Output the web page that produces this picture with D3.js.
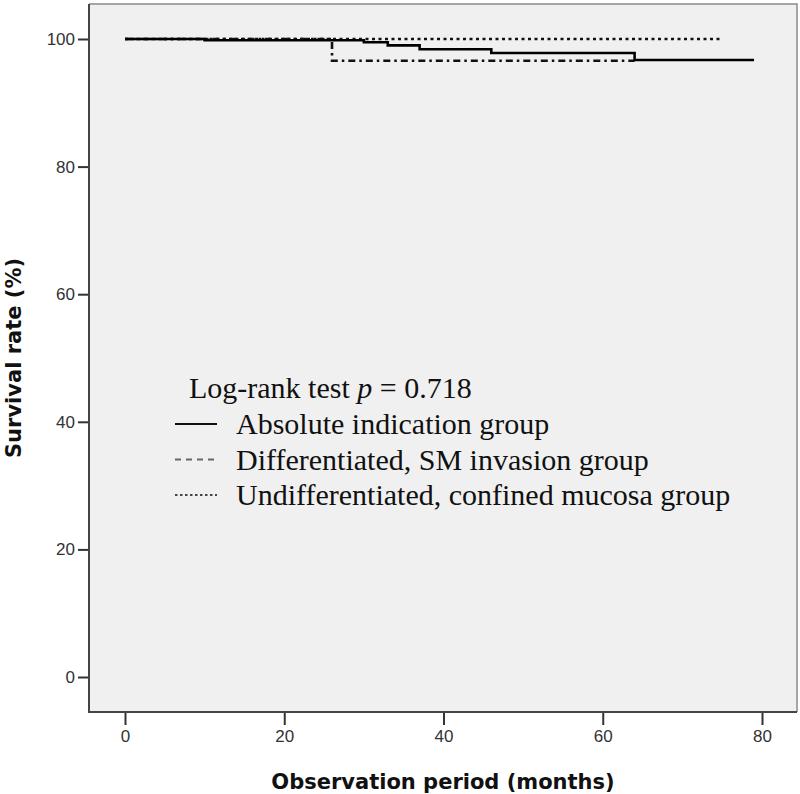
<!DOCTYPE html>
<html><head><meta charset="utf-8">
<script src="https://cdn.jsdelivr.net/npm/d3@7"></script>
<style>body{margin:0;background:#fff}svg{display:block}</style>
</head><body>
<script>
// ---- data ----
const xTicks = [0, 20, 40, 60, 80];
const yTicks = [0, 20, 40, 60, 80, 100];
const absTimes = [0, 10, 30, 33, 37, 46, 64, 79];
const absSurv  = [100, 99.8, 99.5, 99.0, 98.4, 97.8, 96.7, 96.7];
const difTimes = [0, 26, 64];
const difSurv  = [100, 96.6, 96.6];
const undTimes = [0, 75];
const undSurv  = [100, 100];
const legendTitle = "Log-rank test ";
const legendLabels = ["Absolute indication group", "Differentiated, SM invasion group", "Undifferentiated, confined mucosa group"];

const W = 800, H = 794;
const svg = d3.select("body").append("svg").attr("width", W).attr("height", H);
const frame = {l: 89, r: 797, t: 4, b: 712};
const x = d3.scaleLinear().domain([0, 80]).range([125, 762]);
const y = d3.scaleLinear().domain([0, 100]).range([677, 39]);

svg.append("rect").attr("x", frame.l).attr("y", frame.t)
  .attr("width", frame.r - frame.l).attr("height", frame.b - frame.t)
  .attr("fill", "#f0f0f0");
svg.append("path").attr("d", `M${frame.l},${frame.t}H${frame.r}V${frame.b}`)
  .attr("fill", "none").attr("stroke", "#8a8a8a").attr("stroke-width", 1.5);

const yAxis = svg.append("g").attr("transform", `translate(${frame.l},0)`)
  .call(d3.axisLeft(y).tickValues(yTicks).tickSize(11).tickPadding(3).tickFormat(d3.format("d")));
const xAxis = svg.append("g").attr("transform", `translate(0,${frame.b})`)
  .call(d3.axisBottom(x).tickValues(xTicks).tickSize(13).tickPadding(5).tickFormat(d3.format("d")));
[yAxis, xAxis].forEach(g => {
  g.select(".domain").remove();
  g.selectAll("line").attr("stroke", "#333").attr("stroke-width", 2);
  g.selectAll("text").attr("fill", "#333").style("font-family", "'Liberation Sans', Arial, sans-serif").style("font-size", "17px");
});
svg.append("path").attr("d", `M${frame.l},${frame.t}V${frame.b}H${frame.r}`)
  .attr("fill", "none").attr("stroke", "#444").attr("stroke-width", 2);

svg.append("text").attr("x", 443).attr("y", 789).attr("text-anchor", "middle")
  .style("font-family", "'DejaVu Sans', Verdana, sans-serif").style("font-weight", "bold").style("font-size", "21px")
  .attr("fill", "#111").text("Observation period (months)");
svg.append("text").attr("transform", `translate(21,${(frame.t + frame.b) / 2}) rotate(-90)`).attr("text-anchor", "middle")
  .style("font-family", "'DejaVu Sans', Verdana, sans-serif").style("font-weight", "bold").style("font-size", "21px")
  .attr("fill", "#111").text("Survival rate (%)");

const line = d3.line().x(d => x(d[0])).y(d => y(d[1])).curve(d3.curveStepAfter);
const zip = (a, b) => a.map((t, i) => [t, b[i]]);
const series = [
  {pts: zip(undTimes, undSurv), dash: "3,3.5", color: "#111"},
  {pts: zip(difTimes, difSurv), dash: "7,4,2.5,4", color: "#111"},
  {pts: zip(absTimes, absSurv), dash: null, color: "#000"}
];
series.forEach(s => {
  svg.append("path").attr("d", line(s.pts)).attr("fill", "none")
    .attr("stroke", s.color).attr("stroke-width", 2.6)
    .attr("stroke-dasharray", s.dash);
});

const lg = svg.append("g").style("font-family", "'Liberation Serif', 'Times New Roman', serif").style("font-size", "30px").attr("fill", "#111");
const t0 = lg.append("text").attr("x", 189).attr("y", 398);
t0.append("tspan").text(legendTitle);
t0.append("tspan").style("font-style", "italic").text("p");
t0.append("tspan").text(" = 0.718");
const legendDash = [null, "6,5", "2.5,2.5"];
const legendColor = ["#111", "#666", "#444"];
legendLabels.forEach((lab, i) => {
  const cy = 424 + i * 35.5;
  lg.append("line").attr("x1", 175).attr("x2", 217).attr("y1", cy).attr("y2", cy)
    .attr("stroke", legendColor[i]).attr("stroke-width", 2.2).attr("stroke-dasharray", legendDash[i]);
  lg.append("text").attr("x", 236).attr("y", cy + 10).text(lab);
});
</script>
</body></html>
